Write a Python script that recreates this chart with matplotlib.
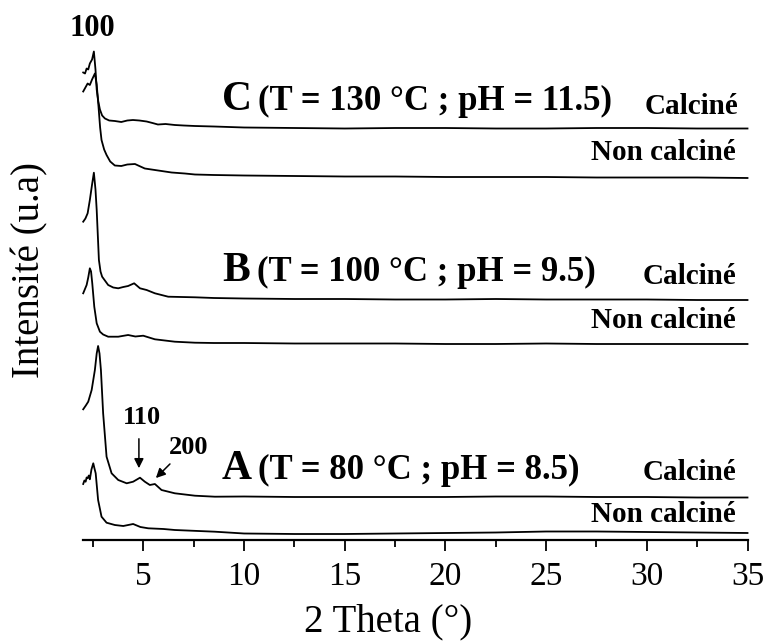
import matplotlib
matplotlib.use("Agg")
import matplotlib.pyplot as plt
from matplotlib.ticker import MultipleLocator

# ---------------- data (arbitrary units) ----------------
x_C_calc = [2.01, 2.10, 2.18, 2.26, 2.34, 2.45, 2.54, 2.62, 2.68, 2.76, 2.84, 2.95, 3.09, 3.30, 3.58, 3.90, 4.20, 4.48, 4.80, 5.16, 5.45, 5.72, 6.10, 6.56, 7.00, 7.56, 8.50, 10, 12.5, 15, 17.5, 20, 22.5, 25, 27.5, 30, 32.5, 35]
y_C_calc = [467, 466, 471, 470, 476, 480, 488, 470, 450, 438, 430, 424, 421, 419, 418.5, 417.5, 419, 419.5, 419, 418, 416.5, 415, 415.5, 414.5, 414, 413.5, 413, 412, 411.5, 411, 411.5, 411.5, 411, 411, 411.5, 411.5, 411, 411]

x_C_non = [2.01, 2.12, 2.23, 2.34, 2.45, 2.59, 2.68, 2.77, 2.85, 2.92, 3.05, 3.17, 3.35, 3.58, 3.90, 4.20, 4.58, 4.85, 5.07, 5.40, 5.90, 6.40, 7.06, 7.56, 8.50, 10, 12.5, 15, 17.5, 20, 22.5, 25, 27.5, 30, 32.5, 35]
y_C_non = [448, 452, 456, 454.5, 460, 466, 455, 433, 412, 399.5, 390, 384.5, 378, 374, 373.5, 375, 375.5, 373, 371, 370, 368.5, 367, 366, 365, 364.5, 364, 363.5, 363, 363, 362.5, 362.5, 362.5, 362, 362, 362, 361.5]

x_B_calc = [2.01, 2.12, 2.23, 2.34, 2.45, 2.54, 2.62, 2.68, 2.79, 2.87, 2.95, 3.25, 3.50, 3.75, 4.00, 4.24, 4.54, 4.83, 5.16, 5.57, 6.23, 7.56, 8.50, 10, 12.5, 15, 17.5, 20, 22.5, 25, 27.5, 30, 32.5, 35]
y_B_calc = [317.8, 321, 326.2, 339.5, 355, 366.8, 350, 329.5, 279.5, 268, 262.8, 254.5, 252, 251.2, 252.5, 253.5, 256.2, 251.2, 249.5, 246.2, 242.8, 242.2, 241.5, 241, 240.5, 240.5, 240, 240, 240.5, 240, 240, 240, 239.5, 239.5]

x_B_non = [2.01, 2.18, 2.26, 2.34, 2.40, 2.46, 2.56, 2.68, 2.84, 3.00, 3.25, 3.75, 4.24, 4.60, 4.99, 5.57, 6.56, 7.56, 8.50, 10, 12.5, 15, 17.5, 20, 22.5, 25, 27.5, 30, 32.5, 35]
y_B_non = [246.2, 254.5, 262, 271.2, 268, 256.2, 232.8, 216.2, 207.8, 205, 202.8, 202.8, 204.5, 203, 203.8, 200.2, 197.8, 196.8, 196.5, 196.5, 196, 196, 196, 195.5, 195.5, 196, 195.5, 195.5, 195.5, 195.5]

x_A_calc = [2.01, 2.14, 2.26, 2.43, 2.59, 2.68, 2.75, 2.82, 2.89, 3.00, 3.17, 3.42, 3.75, 4.17, 4.49, 4.83, 5.07, 5.32, 5.57, 5.90, 6.56, 7.56, 8.55, 10, 12.5, 15, 17.5, 20, 22.5, 25, 27.5, 30, 32.5, 35]
y_A_calc = [130.2, 134, 137.8, 149.5, 169.5, 186, 193.5, 186, 169.5, 126.2, 82.8, 66.2, 59.5, 56.2, 57.8, 61.8, 57.8, 54.5, 55.5, 49.5, 46.2, 43.8, 42.8, 43, 42.5, 42.5, 42.5, 42.5, 43, 43, 42.5, 42.5, 42, 42]

x_A_non = [2.01, 2.07, 2.13, 2.18, 2.23, 2.29, 2.34, 2.42, 2.51, 2.57, 2.63, 2.75, 2.92, 3.17, 3.58, 4.00, 4.49, 4.85, 5.24, 6.00, 6.56, 8.55, 10, 12.5, 15, 17.5, 20, 22.5, 25, 27.5, 30, 32.5, 35]
y_A_non = [55.5, 59, 57.8, 62, 61.2, 64, 60.2, 70, 76.2, 71, 66.2, 39.5, 22.8, 16.8, 14.5, 13.5, 15.5, 12.5, 11.2, 10.5, 9.5, 7.8, 6, 5.5, 5.5, 6, 6.5, 7, 8, 8, 7.5, 7, 6.5]

x_ticks = [5, 10, 15, 20, 25, 30, 35]
x_tick_labels = ["5", "10", "15", "20", "25", "30", "35"]

# ---------------- figure ----------------
W, H = 766, 644
fig = plt.figure(figsize=(W / 100, H / 100), dpi=100)
ax_l, ax_r, ax_b, ax_t = 83.0, 747.5, 539.5, 20.0
ax = fig.add_axes([ax_l / W, (H - ax_b) / H, (ax_r - ax_l) / W, (ax_b - ax_t) / H])
ax.set_xlim(2, 35)
ax.set_ylim(0, ax_b - ax_t)

serif = ["Liberation Serif", "DejaVu Serif"]

for xs, ys in [(x_C_calc, y_C_calc), (x_C_non, y_C_non), (x_B_calc, y_B_calc),
               (x_B_non, y_B_non), (x_A_calc, y_A_calc), (x_A_non, y_A_non)]:
    ax.plot(xs, ys, color="black", lw=1.3, clip_on=False)

for s in ["left", "top", "right"]:
    ax.spines[s].set_visible(False)
ax.spines["bottom"].set_linewidth(1.6)
ax.set_yticks([])
ax.set_xticks(x_ticks)
ax.set_xticklabels(x_tick_labels, fontfamily=serif, fontsize=24)
ax.xaxis.set_minor_locator(MultipleLocator(2.5))
ax.tick_params(axis="x", which="major", direction="out", length=8, width=1.3, pad=8)
ax.tick_params(axis="x", which="minor", direction="out", length=5, width=1.3)

fig.text(388 / W, 1 - 622 / H, "2 Theta (°)", ha="center", va="center",
         fontfamily=serif, fontsize=28)
fig.text(30 / W, 1 - 270 / H, "Intensité (u.a)", rotation=90, ha="center", va="center",
         fontfamily=serif, fontsize=28)


def px(xp):
    return 5 + (xp - 143.5) / 20.13


def py(yp):
    return ax_b - yp


def txt(xp, yp, s, size, ha="left", va="center"):
    ax.text(px(xp), py(yp), s, ha=ha, va=va, fontfamily=serif, fontweight="bold",
            fontsize=size, clip_on=False)


txt(92, 29, "100", 22, ha="center")
txt(222, 110, "C", 30, va="baseline")
txt(258, 110, "(T = 130 °C ; pH = 11.5)", 25, va="baseline")
txt(645, 106, "Calciné", 21)
txt(591, 153, "Non calciné", 21)

txt(222, 281, "B", 30, va="baseline")
txt(257, 281, "(T = 100 °C ; pH = 9.5)", 25, va="baseline")
txt(643, 276, "Calciné", 21)
txt(591, 321, "Non calciné", 21)

txt(222, 479, "A", 30, va="baseline")
txt(258, 479, "(T = 80 °C ; pH = 8.5)", 25, va="baseline")
txt(643, 473, "Calciné", 21)
txt(591, 515, "Non calciné", 21)

txt(142, 418, "110", 19, ha="center")
txt(189, 448, "200", 19, ha="center")
ax.annotate("", xy=(px(139), py(471)), xytext=(px(139), py(436)),
            arrowprops=dict(arrowstyle="-|>", color="black", lw=1.1, mutation_scale=14))
ax.annotate("", xy=(px(154), py(480)), xytext=(px(172), py(462)),
            arrowprops=dict(arrowstyle="-|>", color="black", lw=1.1, mutation_scale=14))

fig.savefig("out.png", dpi=100)
